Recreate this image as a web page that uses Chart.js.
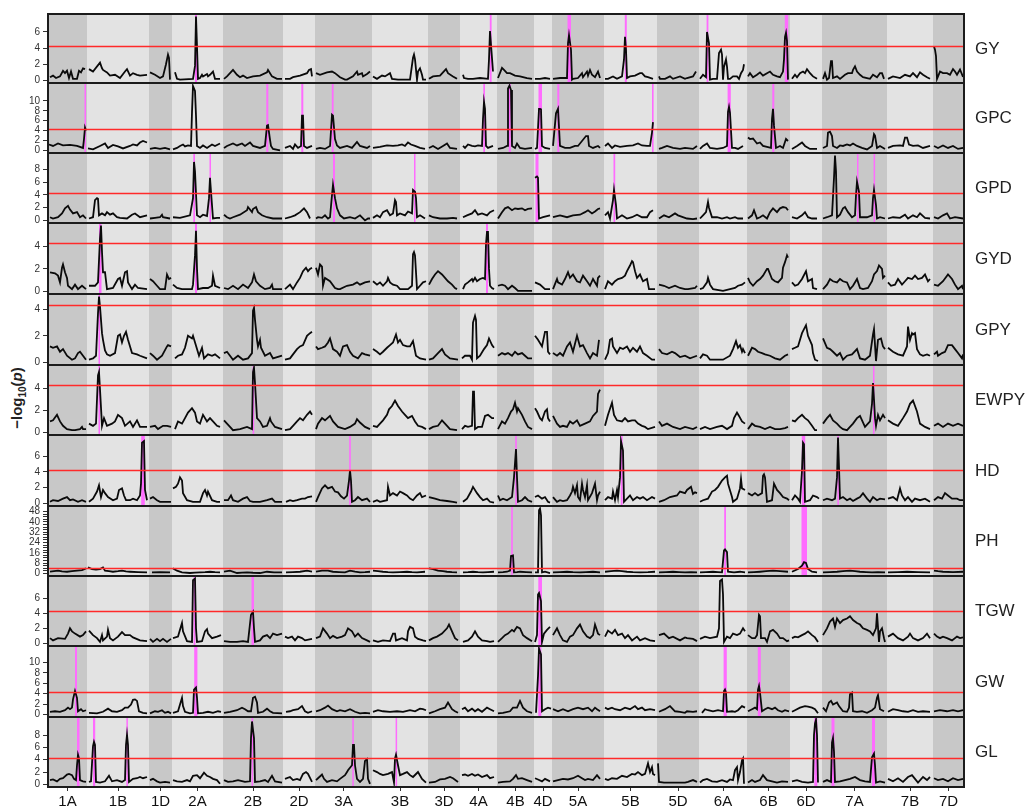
<!DOCTYPE html>
<html><head><meta charset="utf-8">
<script src="https://cdn.jsdelivr.net/npm/chart.js@4.4.1/dist/chart.umd.min.js"></script>
<style>
html,body{margin:0;padding:0;background:#fff;}
body{width:1026px;height:807px;position:relative;overflow:hidden;font-family:"Liberation Sans",Arial,sans-serif;}
canvas{position:absolute;left:0;}
.trait{position:absolute;left:975px;font-size:17px;color:#222;transform:translateY(-50%);}
.ytitle{position:absolute;left:18px;top:398px;transform:translate(-50%,-50%) rotate(-90deg);font-size:15px;font-weight:bold;color:#222;white-space:nowrap;}
.ytitle sub{font-size:10px;}
</style></head>
<body>
<div class="ytitle">−log<sub>10</sub>(<i>p</i>)</div>
<script>
// ---------------- DATA ----------------
const chromosomes = ['1A','1B','1D','2A','2B','2D','3A','3B','3D','4A','4B','4D','5A','5B','5D','6A','6B','6D','7A','7B','7D'];
const chrLen = [39,62,23,51,60,32,57,56,32,37,37,18,52,53,42,48,43,32,65,46,31];
const traits = ['GY','GPC','GPD','GYD','GPY','EWPY','HD','PH','TGW','GW','GL'];
const threshold = 4.3;
const yTicks = {
  GY:[0,2,4,6], GPC:[0,2,4,6,8,10], GPD:[0,2,4,6,8], GYD:[0,2,4], GPY:[0,2,4], EWPY:[0,2,4],
  HD:[0,2,4,6], PH:[0,2,4,6,8,10,12,14,16,18,20,22,24,26,28,30,32,34,36,38,40,42,44,46,48],
  TGW:[0,2,4,6], GW:[0,2,4,6,8,10], GL:[0,2,4,6,8]
};
const phLabelStep = 8;

// genome position / -log10(p) pairs (flat)
const GY_lod = [2,0.4,5,0.6,8,0.3,12,0.5,15,1.2,17,0.9,19,1.2,21,0.3,23,1.1,25,0.2,29,0.2,31,1.2,33,1.0,35,1.5,37,1.4,
41,1.4,45,1.1,52,2.2,54,1.5,55,1.3,59,1.0,62,0.6,67,0.7,72,0.3,77,1.1,79,1.4,82,0.6,85,0.9,89,0.7,92,0.6,99,0.7,
102,1.0,107,0.7,112,0.3,115,0.5,118,2.0,120,3.2,121,2.8,122,0.1,
127,1.0,129,0.2,132,0.1,145,0.2,147,1.8,148,7.9,149,4.2,150,0.2,152,0.3,154,0.7,155,0.5,159,0.8,160,0.5,162,0.7,165,1.1,167,0.2,172,0.2,
176,0.2,179,0.5,185,1.3,189,0.7,192,0.4,195,0.6,199,0.3,205,0.5,212,0.6,219,1.0,220,1.3,224,0.5,229,0.2,234,0.2,
237,0.2,242,0.2,245,0.4,252,0.6,259,0.9,261,1.3,263,1.4,264,0.5,
268,0.9,272,0.7,279,1.0,284,1.1,287,0.9,292,0.4,297,0.1,299,0.1,305,0.5,309,1.1,310,0.7,314,0.9,315,0.5,319,0.8,322,1.1,
325,0.5,329,0.2,334,0.6,337,0.5,342,0.9,344,0.2,350,0.1,362,0.1,365,2.8,366,3.2,367,2.6,369,0.1,370,1.1,372,1.5,374,0.7,375,0.1,378,0.1,
381,0.2,385,0.5,392,0.6,398,1.4,400,0.9,405,0.5,409,0.2,
415,0.7,416,0.3,420,0.2,425,0.2,432,0.3,440,0.2,441,2.6,442,6.1,443,4.4,445,1.1,
450,0.3,454,1.55,456,1.3,459,0.9,462,0.9,467,0.6,472,0.5,479,0.3,484,0.2,
487,0.2,492,0.2,497,0.3,502,0.2,
505,0.2,512,0.3,519,0.3,520,4.6,521,5.6,523,3.8,524,0.1,525,0.2,530,0.3,534,0.9,535,0.4,539,1.1,540,0.6,542,1.3,544,0.7,547,0.4,550,1.1,552,0.3,
557,0.2,560,0.2,565,0.5,569,0.2,574,0.5,576,2.6,577,5.4,578,3.8,579,0.3,582,0.5,587,0.6,592,0.9,594,0.9,597,0.5,600,0.4,605,0.2,
611,0.5,612,0.2,617,0.2,622,0.5,625,0.2,632,0.5,637,0.2,639,0.3,645,0.5,648,1.1,
652,0.2,655,0.7,658,0.4,659,6.0,661,4.6,662,0.1,665,0.2,669,0.2,671,3.4,673,3.8,674,3.2,675,0.1,676,1.7,678,2.6,679,1.7,680,0.2,682,0.2,685,0.5,689,0.5,691,0.2,693,0.9,695,1.3,696,2.0,
700,0.5,702,0.9,705,0.4,709,0.7,712,1.0,715,0.6,719,0.9,722,1.1,725,0.7,729,0.5,732,0.4,735,1.1,736,2.6,737,5.4,738,5.9,739,4.9,740,0.1,
744,0.2,747,0.7,749,0.4,752,0.9,755,1.1,757,0.9,759,1.4,762,0.9,765,0.5,769,0.2,
775,0.2,777,0.9,779,0.1,781,0.3,783,2.4,784,2.4,785,0.3,789,0.5,792,0.2,797,0.7,800,0.9,804,0.9,805,1.3,807,1.75,809,1.1,812,0.7,815,0.4,819,0.3,822,0.2,825,0.7,829,0.4,832,0.9,834,0.9,836,0.2,
840,0.2,845,0.5,852,0.3,857,0.7,862,0.5,865,0.9,869,0.4,872,1.0,875,0.7,879,0.4,882,0.2,
886,4.2,887,3.8,888,3.0,889,0.2,892,1.1,895,0.9,899,0.9,902,0.7,905,1.4,907,1.1,909,0.7,912,1.35,915,0.45];

const GPC_lod = [1,1.2,5,0.9,10,1.4,15,1.0,22,1.1,29,0.9,35,0.5,36,2.3,37,4.6,38,4.0,
40,0.4,45,0.2,52,0.9,57,1.4,60,0.5,65,1.1,70,0.8,75,0.4,82,0.9,85,1.2,89,1.0,92,1.6,95,1.9,99,1.6,
102,0.3,107,0.5,112,0.3,117,0.5,122,0.2,
125,0.2,129,0.5,132,0.9,135,1.2,137,0.8,140,1.0,143,0.9,144,7.7,145,13.0,147,12.0,148,7.0,149,0.9,152,0.5,155,1.0,159,0.5,164,1.2,167,0.9,172,1.4,
176,0.5,179,0.9,185,1.4,189,1.0,194,1.4,197,0.9,202,1.6,205,0.9,212,0.5,217,0.9,219,5.0,220,5.1,222,2.2,223,0.9,225,0.3,232,0.0,
237,0.5,242,0.9,245,0.3,247,1.2,250,0.5,253,0.9,254,7.0,255,7.0,256,0.9,259,0.5,264,0.9,
268,0.3,272,0.5,277,0.3,282,0.9,283,4.0,284,7.2,285,7.0,287,2.3,289,1.0,292,0.5,299,0.9,304,0.5,309,1.7,312,0.9,319,0.5,322,0.9,
325,0.5,332,0.7,339,1.0,345,0.9,350,1.0,354,1.2,357,0.9,360,1.6,363,1.2,367,0.9,372,0.5,377,0.3,
381,0.5,385,0.9,390,0.3,395,0.9,399,1.4,402,0.5,409,0.3,
415,0.9,417,0.5,420,1.2,424,0.9,427,0.8,430,1.0,434,0.9,435,6.4,436,9.8,437,8.4,438,0.9,440,0.5,445,0.9,
450,0.3,455,0.5,459,0.9,460,12.5,461.5,13.1,463,12.2,464,0.9,467,0.5,469,1.4,472,0.5,477,0.3,484,0.5,
487,0.3,489,0.5,491,8.4,492,8.4,493,8.3,494,0.9,497,0.5,502,0.3,
505,0.9,508,7.5,510,8.4,512,0.9,517,0.5,522,0.5,527,0.9,530,0.9,538,2.9,540,2.9,541,0.9,545,0.5,550,0.9,552,0.5,
557,0.9,560,1.4,564,0.5,567,1.0,572,0.7,579,0.9,585,1.0,590,1.4,594,1.0,599,0.9,602,0.9,604,3.6,605,5.7,
611,0.3,614,0.5,619,0.9,625,0.5,632,0.3,637,0.5,645,0.3,649,0.9,
652,0.3,655,0.9,659,1.4,662,0.5,669,0.3,675,0.5,679,0.9,680,7.8,681,8.8,682,7.6,684,0.5,687,0.5,690,0.3,695,0.9,
700,2.6,702,2.3,705,2.4,707,1.9,709,1.4,712,1.6,715,0.9,719,0.7,723,0.5,724,6.4,725,8.4,726,5.0,728,0.5,732,0.9,735,0.5,738,2.3,740,1.9,
744,0.3,749,0.9,754,1.6,757,0.9,762,0.3,769,0.3,
775,0.5,779,0.9,780,3.6,782,3.8,784,2.9,785,0.9,789,0.5,792,1.0,795,0.9,799,1.2,802,1.0,805,1.4,809,0.9,814,0.5,819,0.2,824,0.9,826,3.3,827,3.0,829,0.5,832,0.9,837,0.3,
840,0.5,845,0.9,852,1.0,855,0.9,857,2.6,859,2.6,861,1.2,865,0.9,870,1.0,875,0.5,882,0.9,
886,0.9,890,0.5,895,1.0,900,0.5,905,0.9,910,0.3,915,0.5];

const GPD_lod = [2,0.5,5,0.3,10,0.5,14,1.1,17,1.9,20,2.3,22,1.7,25,1.1,29,1.3,32,0.5,35,0.8,38,0.3,
41,0.3,45,0.5,47,3.2,49,3.5,50,3.4,51,0.8,54,1.1,57,0.8,59,1.3,62,0.9,65,1.1,69,0.5,72,0.4,79,0.3,84,0.9,87,1.1,92,0.5,99,0.8,
102,0.3,107,0.4,112,0.5,114,0.9,115,0.5,122,0.3,
125,0.5,132,0.4,142,0.8,145,3.5,146,9.2,147,7.7,149,0.8,152,0.5,155,0.9,159,0.7,161,3.5,162,6.7,163,4.5,165,0.3,169,0.4,172,0.4,
176,0.9,179,0.5,182,0.3,185,0.5,192,0.9,199,1.6,200,2.1,204,1.3,205,1.8,208,2.1,210,1.3,214,0.8,219,0.5,225,0.3,234,0.3,
237,0.3,242,0.5,247,0.8,252,1.3,256,1.9,259,1.3,262,0.3,
268,0.3,270,0.5,274,0.4,277,0.8,280,0.3,282,0.5,284,4.0,285,5.6,287,3.5,289,1.9,292,0.8,296,0.3,302,0.5,307,0.3,312,0.8,317,0.0,320,0.3,322,0.3,
325,0.4,329,0.8,332,0.5,335,1.3,339,1.6,342,0.8,345,1.1,347,3.2,348,2.9,349,0.8,352,1.1,357,0.8,360,1.4,364,1.1,365,4.8,367,4.5,368,3.5,369,0.5,372,0.8,377,0.3,
381,0.8,385,0.5,392,0.3,399,0.3,405,0.4,409,0.3,
415,0.5,419,0.8,424,1.1,427,1.6,430,0.9,434,1.1,439,0.8,442,1.3,446,1.6,
450,0.3,454,1.3,457,1.9,460,2.1,464,1.6,467,1.9,470,1.8,474,1.9,477,1.6,480,1.8,484,1.9,
487,6.7,489,6.9,490,6.7,491,0.3,495,0.5,502,0.8,
505,0.5,512,0.8,519,0.5,525,0.8,532,0.9,537,1.3,540,1.6,544,1.1,547,1.4,550,1.8,552,1.9,
557,0.8,560,1.3,562,0.3,565,3.2,566,4.8,568,2.4,569,0.3,574,0.8,579,0.3,584,0.5,589,0.9,594,0.5,599,0.5,602,1.3,605,1.6,
611,0.3,616,0.8,621,0.5,627,1.1,630,0.8,639,0.3,645,0.2,649,0.3,
652,0.3,655,0.8,658,1.3,660,2.9,661,2.0,664,0.5,669,0.5,674,0.3,679,0.5,682,0.3,687,0.5,690,0.3,695,0.3,
700,0.3,704,0.8,706,1.6,709,0.3,712,0.5,715,0.8,719,0.3,722,1.3,725,1.9,729,1.3,732,1.9,735,2.1,738,2.0,740,1.6,
744,0.5,749,0.3,754,0.8,757,1.3,760,0.5,764,0.3,769,0.3,
775,0.3,779,0.5,784,0.8,786,6.7,787,10.2,788,7.7,789,0.5,792,0.9,795,1.9,797,2.1,800,1.3,804,0.5,807,0.8,808,4.0,809,6.1,811,4.5,812,0.5,819,0.5,824,0.8,825,3.5,826,4.8,828,2.4,829,0.3,832,0.5,837,0.3,
840,0.3,845,0.5,852,0.4,857,0.9,860,0.3,865,0.8,869,0.5,872,1.1,877,0.4,882,0.3,
886,0.5,890,0.3,895,0.8,899,1.1,902,0.3,907,0.5,915,0.3];

const GYD_lod = [2,1.7,7,1.6,10,1.4,12,0.8,14,2.1,15,2.4,17,1.7,19,1.2,20,0.5,24,0.2,27,0.6,30,0.2,34,0.5,38,0.2,
41,0.5,47,0.5,50,0.8,52,4.7,53,5.85,54,3.5,55,1.7,57,1.7,59,0.2,65,0.3,70,1.1,72,1.2,74,0.5,77,1.7,79,1.8,80,0.8,84,0.2,87,0.6,90,0.3,99,0.2,
102,1.1,105,0.9,109,0.5,112,0.2,117,0.2,119,1.5,121,1.1,123,1.2,
125,0.6,129,0.3,134,0.2,144,0.2,145,0.6,147,3.2,148,5.4,149,2.0,150,0.2,155,0.3,160,0.3,164,0.5,165,1.4,167,0.5,172,0.3,
176,0.3,180,0.2,185,0.5,190,0.2,195,0.6,200,0.3,204,0.8,206,1.5,208,0.9,212,0.5,217,0.2,222,0.3,224,0.6,225,0.2,234,0.2,
237,0.2,242,0.6,245,0.2,249,0.8,252,1.2,255,1.8,258,2.1,260,1.8,262,2.0,264,2.1,
268,2.1,270,1.5,272,2.4,274,2.2,275,0.5,277,1.2,282,0.9,287,0.3,290,0.2,292,0.2,299,0.5,305,0.6,309,0.8,312,0.6,317,0.8,322,0.9,
325,0.9,329,0.6,332,0.8,335,0.5,339,0.9,340,1.2,342,0.8,345,0.6,349,0.5,352,0.2,360,0.2,364,0.5,365,3.3,366,3.5,367,3.2,369,0.2,372,0.5,375,0.8,378,0.9,
381,0.6,384,1.1,387,1.5,390,1.8,394,1.5,397,1.2,400,0.9,404,0.6,407,0.3,409,0.2,
415,0.2,417,0.6,420,0.8,424,1.1,425,0.9,427,1.2,429,0.9,432,1.1,435,1.2,437,1.1,438,4.2,439,5.3,440,5.3,441,2.0,442,0.5,444,0.3,446,0.2,
450,0.5,454,0.6,457,0.5,460,0.2,464,0.5,467,0.3,470,0.05,484,0.05,
487,0.8,492,0.6,497,0.2,502,0.2,
505,0.2,509,1.1,510,0.8,514,0.6,517,1.1,520,1.7,522,1.2,525,1.5,529,0.9,532,0.8,535,1.4,539,0.9,542,0.5,545,1.1,549,0.5,550,1.2,552,1.4,
557,0.2,560,0.9,564,0.6,567,0.9,570,1.1,574,1.2,577,1.4,579,1.8,582,2.3,584,2.7,585,2.6,587,1.8,589,1.2,592,1.5,595,0.9,599,1.1,601,0.2,607,0.2,
611,0.6,616,0.5,621,0.3,627,0.5,632,0.3,637,0.2,640,0.2,647,0.3,649,0.5,
652,0.2,655,0.3,659,0.8,660,1.2,662,0.6,665,0.2,675,0.05,682,0.2,687,0.3,690,0.5,694,0.6,697,0.8,
700,1.2,702,0.8,705,0.5,709,0.9,712,1.1,715,1.4,719,2.0,720,2.0,724,1.1,727,0.9,730,0.8,734,1.2,735,2.1,737,2.6,739,3.2,740,3.0,
744,0.8,747,0.5,750,0.6,754,1.1,758,1.8,760,0.9,764,1.1,765,0.3,769,0.2,
775,0.2,779,0.6,782,1.1,785,0.9,789,0.8,792,1.1,795,0.9,799,0.8,802,0.2,805,0.5,809,1.1,812,0.3,815,0.2,820,0.3,824,0.9,826,1.5,829,1.8,831,2.3,834,2.0,835,1.2,837,1.4,
840,0.8,843,0.5,847,0.6,850,1.1,854,0.6,857,0.9,860,1.2,864,1.1,867,1.4,870,1.1,874,1.2,877,1.5,880,0.9,882,1.1,
886,0.6,890,0.5,895,0.9,900,1.5,904,1.1,907,0.6,910,0.2,914,0.5,915,0.2];

const GPY_lod = [2,1.2,5,1.1,9,1.2,12,0.8,15,1.0,19,0.5,24,0.2,27,0.3,30,0.7,32,0.8,35,0.5,38,0.2,
41,0.2,45,0.3,48,0.5,50,3.7,51,4.95,52,4.2,54,2.2,55,1.7,57,0.9,59,0.6,62,0.5,67,0.7,70,2.0,72,2.1,74,1.5,76,2.0,78,2.3,80,1.7,84,0.7,89,0.6,92,0.5,99,0.3,
102,0.7,105,0.5,109,0.2,114,0.5,119,1.2,120,1.3,123,1.2,
127,0.3,130,0.5,134,0.6,137,1.1,140,2.0,144,1.8,145,2.0,149,1.0,151,0.5,154,1.1,156,0.3,160,0.6,164,0.5,167,0.6,172,0.3,
176,0.7,179,0.8,182,0.5,185,0.2,190,0.5,195,0.2,200,0.3,204,0.7,205,3.9,206,4.1,207,3.2,209,1.7,210,1.2,212,1.7,213,1.1,217,0.5,222,0.7,225,0.3,234,0.5,
237,0.2,242,0.3,245,0.6,249,1.0,252,1.2,255,1.3,259,2.0,262,2.2,264,2.3,
268,1.2,270,1.0,274,1.1,277,1.2,280,1.5,282,1.8,285,1.0,289,0.8,292,0.5,295,1.2,299,1.3,302,0.8,305,0.5,310,0.3,314,0.7,317,0.6,322,0.5,
325,1.0,329,0.8,332,0.6,335,0.8,339,1.1,342,1.3,345,1.5,348,2.1,350,1.5,352,1.7,355,1.3,359,1.2,362,1.2,365,1.6,368,0.5,372,0.3,378,0.2,
381,0.2,385,0.3,390,0.7,394,1.0,397,0.6,402,0.3,410,0.2,
414,0.3,417,0.5,422,0.5,424,0.2,425,3.0,427,3.5,428,3.2,429,0.3,432,0.5,436,1.0,439,1.3,441,1.8,444,1.3,446,1.1,
450,0.5,454,0.7,457,0.6,460,0.7,464,0.5,467,0.8,470,0.6,474,0.7,477,0.5,480,0.3,484,0.3,
487,2.0,490,1.7,494,1.2,497,2.3,499,2.3,500,0.8,502,0.6,
505,0.7,509,0.5,512,0.7,515,0.5,519,1.2,522,1.5,525,0.8,529,2.0,532,1.2,535,1.3,539,0.7,542,0.3,545,0.7,549,0.5,551,1.7,
557,0.2,560,0.7,562,1.7,564,1.8,565,1.2,569,0.7,572,1.1,575,1.0,579,1.2,582,0.8,585,1.1,589,0.8,592,1.2,595,0.7,599,0.5,604,0.2,607,0.2,
611,1.0,614,0.7,619,0.6,624,0.8,627,0.7,632,0.4,637,0.5,642,0.3,649,0.5,
652,0.3,655,0.6,659,0.5,662,0.2,669,0.2,675,0.2,682,0.5,685,1.0,688,1.6,690,1.1,692,1.3,694,0.8,695,1.0,697,0.7,
700,0.5,704,1.1,707,1.0,710,0.8,714,0.7,717,0.6,722,0.5,727,0.3,732,0.2,737,0.5,740,0.6,
744,1.0,747,1.1,750,1.2,754,2.2,758,2.8,760,2.0,764,1.3,765,0.7,767,0.2,770,0.1,
775,1.8,779,1.1,782,1.0,785,0.8,789,0.5,792,0.7,795,0.2,799,0.5,804,0.6,809,1.0,812,0.3,817,0.2,822,0.5,825,2.1,826,2.5,828,0.1,830,1.7,833,1.8,835,1.2,837,1.0,
840,1.1,845,0.8,850,0.6,855,0.5,859,1.2,860,2.7,862,1.7,864,2.2,865,2.1,867,2.2,869,1.0,872,0.6,875,0.5,879,0.6,882,0.5,
886,0.6,889,0.8,890,0.5,894,0.7,897,0.8,900,1.3,904,1.3,907,1.0,910,0.7,914,0.3,915,0.6];

const EWPY_lod = [2,1.0,5,1.1,9,1.6,12,1.0,15,0.6,19,0.3,24,0.2,27,0.2,32,0.3,34,0.5,35,0.3,38,0.3,
41,0.8,45,0.6,48,0.8,50,5.2,51,5.5,52,3.9,54,0.6,56,1.3,59,0.6,64,0.8,67,1.0,70,1.6,74,1.3,77,0.6,82,1.0,85,0.5,89,1.1,92,0.5,99,0.5,
102,0.5,107,0.6,110,0.3,115,0.6,119,0.6,123,0.5,
127,0.3,130,1.0,134,0.8,137,1.3,140,1.8,144,2.2,147,1.8,149,1.0,152,0.8,155,1.6,159,1.0,162,1.3,165,1.0,169,0.6,172,0.5,
176,1.1,179,0.8,182,0.5,185,0.2,192,0.3,199,0.5,204,0.3,205,5.5,206,5.9,207,4.5,209,1.3,212,1.0,215,0.5,219,0.6,222,1.3,223,1.0,227,0.5,234,0.3,
237,0.2,242,0.3,245,0.6,249,1.0,252,1.3,255,1.1,259,1.6,262,1.9,264,1.6,
268,0.3,270,0.8,274,1.3,277,1.1,282,1.5,285,1.0,290,0.5,297,0.3,302,0.5,307,0.8,309,1.2,312,0.9,317,0.5,322,0.3,
325,0.6,329,0.5,332,0.8,335,1.1,339,1.6,341,2.1,344,2.4,347,2.9,350,2.4,354,1.9,357,1.6,360,1.3,364,1.5,367,1.0,370,0.6,374,0.5,378,0.3,
381,0.3,385,0.5,390,0.6,394,1.1,397,0.8,402,0.3,409,0.2,
414,0.3,417,0.6,420,0.5,424,0.6,425,3.7,426,3.7,427,0.3,430,0.5,434,0.5,437,1.5,440,1.6,444,1.3,446,1.3,
450,0.3,454,1.0,457,0.8,460,1.3,463,1.9,465,2.1,467,2.7,469,1.9,470,2.2,474,1.6,477,1.0,480,0.5,484,0.3,
487,2.2,489,1.9,492,1.3,494,1.1,497,1.9,499,2.1,500,1.3,502,1.0,
505,1.5,509,0.8,512,0.5,515,0.6,519,0.5,522,1.0,525,0.8,529,1.1,532,0.6,537,0.8,542,1.0,545,1.5,549,1.9,550,3.5,552,3.9,
557,0.6,560,1.6,564,2.7,566,1.6,569,1.1,574,1.0,577,1.3,580,1.0,584,1.1,587,1.1,590,0.8,594,0.6,597,0.5,600,0.3,607,0.5,
611,1.0,614,0.6,619,0.8,625,0.5,632,0.3,637,0.5,645,0.3,649,0.5,
652,0.3,657,0.5,662,0.3,669,0.5,674,0.6,679,0.3,684,0.6,686,1.3,689,1.8,691,1.5,694,1.0,697,0.8,
700,0.3,704,0.8,707,0.6,712,0.5,717,0.3,722,0.5,727,0.3,732,0.3,737,0.4,740,0.5,
744,1.1,747,1.0,750,1.3,754,1.6,757,1.3,760,1.1,764,0.6,767,0.2,769,0.2,
775,0.8,779,1.3,782,1.6,785,1.1,789,0.8,792,0.5,795,0.3,799,0.2,802,0.5,805,0.8,809,1.3,812,1.5,817,0.5,822,1.0,824,2.6,825,4.5,826,3.0,827,1.3,828,0.6,830,1.6,832,1.1,835,1.6,837,1.3,
840,1.1,845,0.8,850,0.6,855,1.3,859,1.9,862,2.6,865,2.9,869,1.9,872,0.8,877,0.5,882,0.3,
886,0.6,890,0.8,895,0.5,900,0.8,905,0.6,910,0.8,915,0.6];

const HD_lod = [2,0.2,5,0.4,10,0.3,15,0.6,19,0.8,22,0.4,25,0.5,30,0.2,34,0.4,38,0.2,
41,0.2,45,0.6,49,1.5,51,2.3,53,0.8,55,1.7,57,1.3,60,0.8,65,0.4,69,0.6,71,1.7,74,1.9,76,1.0,78,0.4,82,0.4,85,0.6,89,0.4,92,1.0,93,2.5,94,7.7,96,7.9,97,1.7,99,0.4,
102,0.6,105,0.8,109,0.4,112,0.2,119,0.2,123,0.2,
125,1.9,128,2.1,130,2.5,132,3.3,134,2.9,135,1.3,139,0.4,145,0.2,152,0.2,155,1.3,157,1.7,159,1.0,160,1.5,164,0.4,169,0.2,172,0.2,
176,0.4,180,0.4,183,1.0,185,0.4,190,0.2,195,0.6,199,0.8,202,0.3,205,0.2,212,0.2,219,0.4,224,0.6,227,0.2,234,0.2,
238,0.2,242,0.4,245,0.3,249,0.4,254,0.6,257,0.6,260,0.8,264,0.9,
268,0.2,270,0.8,274,1.9,277,2.3,280,1.9,284,2.1,287,1.5,290,1.4,293,0.9,296,0.6,299,1.0,301,2.9,302,4.2,303,2.9,304,0.2,307,0.4,310,0.8,314,0.4,319,0.6,322,0.2,
325,0.2,329,0.4,332,0.2,339,0.4,340,2.1,342,1.0,345,1.3,349,1.0,352,1.5,355,1.3,359,1.0,362,0.6,365,0.4,369,1.0,372,1.3,374,0.8,378,1.0,
381,0.8,387,0.6,392,0.4,399,0.3,405,0.2,409,0.1,
415,0.2,419,0.6,423,1.5,425,2.1,429,1.3,432,0.8,435,0.4,439,0.6,442,0.2,446,0.1,
450,1.0,452,0.4,455,0.6,459,0.4,464,0.8,466,3.3,468,6.9,469,3.3,470,0.2,474,0.4,477,0.8,480,0.4,484,0.2,
487,0.8,490,1.0,494,0.6,497,0.8,500,0.2,502,0.1,
505,0.8,509,0.2,512,0.4,515,0.3,519,0.4,522,1.0,524,1.5,525,2.1,527,1.3,529,2.3,530,0.8,532,0.4,534,2.5,535,1.7,537,0.8,539,2.3,540,0.4,544,1.3,547,2.5,549,0.4,550,1.0,552,1.5,
557,0.4,560,0.8,564,0.6,565,1.5,567,0.4,569,1.7,570,0.8,572,3.3,573,7.9,575,6.7,576,0.2,579,0.6,582,1.0,585,0.4,589,0.8,592,0.6,595,0.8,599,0.4,604,0.8,607,0.6,
611,0.2,616,0.4,622,0.8,629,1.0,632,1.5,637,1.3,639,1.7,643,2.1,645,1.2,647,1.4,649,1.3,
652,0.2,655,0.4,660,0.6,664,1.5,667,1.7,670,2.1,674,2.9,677,3.3,679,3.5,680,2.5,684,0.8,685,0.2,689,0.6,692,1.9,693,3.1,694,1.9,697,1.7,
700,1.3,704,1.0,707,1.3,710,1.0,714,1.3,715,3.5,716,3.7,717,3.3,719,0.2,724,0.4,726,2.5,729,1.7,732,1.3,735,0.8,739,0.6,741,0.4,
744,0.4,747,1.0,750,0.6,752,0.2,754,4.2,755,7.7,756,7.5,757,0.2,762,0.4,765,1.0,769,0.8,771,0.6,
775,0.4,779,0.6,784,0.4,787,0.6,789,3.3,790,8.35,791,4.6,792,0.6,795,0.8,799,0.4,802,0.6,805,0.3,809,0.6,812,0.8,815,1.3,819,0.6,822,0.2,825,0.8,829,0.4,832,0.6,837,0.5,
840,0.6,845,0.8,849,0.4,852,1.9,854,1.0,857,0.4,860,0.8,864,0.2,867,0.6,872,0.4,877,0.6,882,0.2,
886,0.4,890,0.8,894,0.6,897,1.3,900,1.0,904,0.6,909,0.6,912,0.4,915,0.4];

const PH_lod = [2,1.3,6,1.7,10,2.1,14,1.5,19,1.3,24,1.7,29,2.1,34,2.5,38,3.9,
40,4.7,44,3.4,48,3.0,52,3.4,55,4.7,57,2.1,61,1.7,65,1.3,70,1.7,74,2.1,78,1.5,82,1.3,90,1.0,99,0.8,
104,0.8,112,1.0,122,0.8,
125,3.9,129,2.1,134,0.8,142,0.3,147,0.6,152,0.8,157,1.0,162,1.3,167,1.0,172,0.8,
176,1.3,182,2.1,189,0.3,194,0.6,199,0.8,205,0.5,212,0.3,219,1.3,226,0.8,234,0.8,
238,0.8,245,1.0,252,1.3,259,2.1,264,1.3,
268,1.3,274,2.1,280,2.1,285,1.3,291,1.0,297,0.8,302,2.1,307,1.3,312,0.8,317,1.0,322,1.3,
325,2.1,330,1.7,335,1.3,340,1.0,345,0.8,352,1.0,359,1.3,364,1.0,369,0.8,377,1.3,
381,3.9,385,3.4,390,2.1,395,1.7,399,1.3,404,1.0,409,0.8,
415,0.8,420,1.0,425,1.3,430,1.0,435,0.8,440,1.0,446,1.3,
450,0.8,455,1.0,459,1.3,462,2.1,463,13.5,465,13.9,466,0.8,469,1.0,472,1.3,478,1.0,484,0.8,
487,0.8,490,0.8,491,49.0,492,50.3,493,45.0,494,0.8,497,1.3,502,0.3,
505,0.8,512,1.0,519,1.3,525,1.0,532,0.8,538,1.0,545,1.3,552,0.8,
557,1.3,563,1.7,569,2.1,574,1.7,579,1.3,585,1.0,592,0.8,600,1.0,607,1.3,
611,0.8,618,1.0,625,1.3,631,1.0,637,0.8,643,1.0,649,0.8,
652,0.8,658,1.0,665,1.3,670,1.0,674,0.8,676,17.8,677,18.6,679,16.5,680,1.3,686,0.8,692,1.3,697,0.8,
700,0.8,706,1.0,712,1.3,718,1.7,725,2.1,732,1.7,740,1.3,
744,1.3,750,3.4,754,6.0,756,8.7,758,8.1,760,3.4,764,1.3,769,0.8,
775,0.8,782,1.0,789,1.3,795,1.7,802,2.1,807,1.7,812,1.3,818,1.0,824,0.8,830,1.0,837,0.8,
840,0.8,850,1.0,859,1.3,870,1.0,882,0.8,
886,2.1,890,1.7,895,1.3,905,1.0,915,1.3];

const TGW_lod = [2,0.7,5,0.4,10,0.7,17,0.6,20,1.3,22,2.0,24,1.6,27,1.3,32,0.9,35,1.1,38,1.6,
41,1.7,45,1.1,49,0.7,52,0.2,54,1.1,55,0.4,59,0.9,60,1.8,62,0.7,65,0.4,70,0.9,74,1.5,77,1.1,82,1.1,85,0.8,92,0.4,99,0.3,
102,0.6,105,0.2,109,0.6,112,0.3,115,0.6,119,0.2,123,0.6,
125,0.7,130,0.9,134,2.7,135,1.6,139,0.3,144,0.2,145,8.4,147,8.6,148,2.0,149,0.2,154,0.3,157,1.6,159,1.9,160,1.3,164,0.7,169,0.9,173,1.1,
176,0.3,182,0.2,189,0.2,195,0.3,200,0.2,203,3.8,205,4.2,206,2.0,207,0.2,212,0.4,215,0.9,219,1.1,222,0.7,225,1.3,229,1.1,234,1.3,
237,0.9,240,0.7,244,0.9,247,0.4,250,0.9,254,0.7,257,0.4,264,0.6,
268,0.7,272,0.9,275,2.0,279,1.3,282,0.7,285,1.0,289,0.7,294,0.9,297,1.1,300,2.0,304,1.6,307,0.9,310,1.3,314,0.7,319,0.4,322,0.2,
325,0.4,330,0.2,335,0.4,342,0.3,345,1.3,347,1.3,348,0.4,354,0.7,359,0.4,360,1.6,362,2.2,365,2.0,367,0.9,370,0.6,375,0.4,378,0.3,
381,0.4,385,0.7,389,0.9,394,1.3,399,2.0,401,2.5,404,1.6,407,0.7,410,0.4,
415,0.2,420,0.4,424,0.9,427,1.6,430,0.9,434,0.4,439,0.3,442,0.2,446,0.3,
450,0.2,454,0.7,457,1.1,460,1.3,464,1.8,466,1.6,469,2.2,472,2.0,475,1.1,479,0.7,484,0.3,
487,0.2,489,1.1,490,6.5,491,6.7,493,5.6,494,0.2,496,1.3,499,1.8,502,2.2,
505,1.1,509,2.0,512,1.1,515,0.4,519,0.2,522,0.9,525,1.1,529,2.0,532,2.5,535,1.6,539,0.9,542,0.7,545,1.1,547,2.5,550,1.3,552,1.1,
557,0.9,560,1.7,564,1.3,567,1.8,570,1.1,574,1.3,577,0.7,580,1.1,584,0.4,589,0.9,592,0.4,597,0.7,602,0.4,607,0.3,
611,1.1,616,1.3,621,0.7,625,0.9,632,0.4,637,0.8,639,0.7,645,0.6,649,0.3,
652,0.6,657,0.9,662,0.7,669,0.9,671,2.0,672,8.3,674,8.5,675,6.5,676,0.2,679,0.9,682,0.7,685,1.3,689,1.1,692,1.3,695,2.0,697,1.6,
700,1.1,704,0.7,707,0.7,709,1.1,711,3.8,712,3.6,713,0.7,717,0.7,719,0.2,722,1.6,725,1.8,729,1.3,732,0.7,735,0.7,739,0.3,741,0.4,
744,0.7,747,0.9,750,0.8,754,1.1,757,1.3,760,1.6,764,1.1,767,0.8,770,0.2,
775,1.1,779,2.0,782,2.9,785,3.3,787,2.2,789,3.3,792,2.7,795,3.1,799,3.3,802,3.6,805,3.1,809,2.7,812,2.5,815,2.0,819,1.8,822,1.6,825,1.1,828,2.0,829,4.0,831,0.2,832,1.6,834,2.0,836,0.7,837,0.2,
840,0.9,845,1.3,850,0.7,855,0.4,860,0.9,862,1.3,865,0.7,870,0.4,875,0.7,879,1.3,882,0.7,
886,1.3,889,0.9,892,0.7,895,0.9,899,0.7,904,0.4,909,0.9,912,0.7,915,0.8];

const GW_lod = [2,0.5,7,0.6,12,0.5,17,0.8,20,1.3,22,1.0,24,1.3,25,2.9,27,4.5,29,3.2,30,0.6,33,1.0,35,0.6,38,0.8,
41,0.3,49,0.2,55,0.5,60,1.1,64,0.6,69,0.5,74,0.8,77,1.3,80,1.3,83,1.9,85,2.8,87,2.9,89,2.6,91,0.6,95,0.3,99,0.2,
102,0.2,107,0.6,110,0.5,114,0.8,117,0.3,120,0.5,123,0.2,
125,0.3,130,0.6,132,1.9,134,3.2,135,1.6,137,0.5,142,0.2,145,0.3,146,4.8,148,5.2,149,3.2,150,0.2,155,0.3,160,0.5,165,0.3,170,0.6,173,0.5,
176,0.3,182,0.5,189,0.8,194,1.3,197,1.0,200,0.6,203,0.6,205,3.2,207,3.4,209,2.3,210,0.3,215,0.5,219,1.1,222,0.6,225,0.3,234,0.2,
238,0.5,242,0.6,245,0.8,250,1.0,254,1.6,257,0.6,260,0.3,264,0.6,
268,0.6,272,0.8,277,1.3,280,1.7,284,1.0,289,0.6,292,0.8,297,0.6,302,1.0,307,0.5,312,0.2,317,0.3,322,0.2,
325,0.5,330,0.8,335,0.6,342,0.5,349,0.6,355,0.5,362,0.8,367,0.6,372,1.1,375,1.0,378,0.8,
381,0.2,387,0.6,392,1.0,397,1.3,400,2.3,404,1.0,407,0.6,410,0.3,
414,1.0,417,1.3,420,0.6,424,1.1,427,0.6,430,1.0,434,0.5,439,1.3,442,1.0,446,0.6,
450,0.2,455,0.3,462,0.6,465,1.3,469,1.3,472,2.6,475,1.3,479,0.6,484,0.3,
488,0.3,490,7.4,491,12.7,493,11.6,494,0.6,497,1.0,500,1.3,503,1.1,
505,1.0,510,0.6,515,1.0,520,0.6,525,1.0,530,1.3,535,1.0,540,1.3,544,0.6,547,1.3,549,1.0,552,0.6,
557,1.3,560,1.0,564,1.3,567,1.0,572,0.8,577,1.3,582,1.0,587,1.6,590,1.0,594,1.3,597,0.8,602,1.0,607,0.8,
611,0.5,617,1.0,622,1.6,627,0.6,632,0.5,637,0.3,639,0.6,645,0.5,649,0.6,
654,0.3,657,1.0,660,0.8,665,0.6,670,0.8,675,0.6,676,4.5,677,4.8,678,4.2,679,0.5,684,0.6,687,0.5,690,0.8,694,1.6,697,1.3,
700,0.6,704,1.0,707,1.3,709,1.0,710,4.8,711,5.5,712,4.2,714,0.6,717,1.0,720,1.3,724,1.0,727,1.3,730,0.8,734,0.5,737,0.8,741,0.6,
744,0.5,747,0.8,752,1.3,757,1.6,760,1.5,764,1.3,767,1.0,770,0.2,
775,1.3,778,0.6,781,2.3,783,2.6,785,1.9,789,2.3,791,1.6,795,0.6,799,0.5,801,1.3,802,3.9,804,4.2,805,0.6,809,0.5,814,0.6,819,0.3,824,0.8,827,1.3,829,3.2,830,3.7,832,1.0,836,0.6,
840,0.5,845,1.0,850,0.8,855,0.6,860,0.5,865,0.8,870,0.5,875,0.6,882,0.5,
886,0.6,892,0.8,899,0.6,905,0.8,910,0.6,915,0.8];

const GL_lod = [2,0.7,5,0.8,9,0.5,12,0.9,15,1.0,19,1.6,21,1.7,24,1.5,26,0.9,28,0.7,29,3.1,30,4.8,31,4.2,32,0.7,35,0.5,38,0.4,
41,0.4,43,0.5,45,6.2,46,6.9,47,6.4,48,0.4,52,0.3,57,0.5,61,1.4,64,0.5,69,0.7,74,0.4,77,0.7,78,6.4,79,8.0,80,6.4,81,0.4,85,0.9,89,1.0,92,1.2,95,1.0,99,1.2,
102,0.7,105,0.9,109,0.5,112,0.3,117,0.4,122,0.3,
125,0.7,129,0.5,134,0.4,139,0.7,142,0.5,145,1.4,149,1.5,152,1.0,156,1.9,159,1.4,162,1.2,165,0.9,169,0.7,172,0.1,
176,0.7,180,0.4,185,0.5,190,0.7,197,0.4,202,0.5,203,7.5,204,10.2,206,7.5,207,0.4,212,0.5,217,0.7,220,0.4,224,1.4,227,0.5,234,0.3,
237,0.9,242,1.2,245,0.7,249,0.9,252,0.7,255,1.7,258,2.0,260,1.7,264,0.4,
268,0.7,270,1.0,274,1.6,276,0.9,279,0.4,284,0.7,289,0.5,292,0.9,297,1.5,299,2.0,300,2.3,304,3.1,305,6.4,306,6.4,307,3.1,309,0.9,312,0.4,315,0.9,317,3.8,319,4.1,320,0.9,322,0.1,
325,2.3,329,2.0,332,1.7,335,1.5,340,1.7,344,2.0,346,0.3,347,4.2,348,4.8,350,3.1,352,1.5,355,1.7,359,2.0,362,1.5,365,1.2,370,2.0,374,0.9,378,0.3,
381,0.3,387,0.4,392,0.8,397,0.9,402,1.2,405,1.0,410,0.4,
414,1.5,417,1.6,420,1.4,424,1.7,427,1.4,430,1.6,434,1.2,439,1.5,442,1.0,446,1.2,
450,0.3,455,0.4,462,0.5,465,0.9,468,1.5,470,0.9,474,1.0,479,0.7,484,0.4,
487,1.0,490,0.8,494,0.5,497,0.9,502,0.5,
505,0.5,510,0.7,515,0.9,520,0.8,525,1.0,530,1.4,534,1.0,537,0.7,540,0.9,545,0.7,549,1.5,552,0.9,
557,0.9,560,0.7,564,1.0,569,0.9,574,1.4,579,1.2,584,1.7,587,1.6,590,2.0,594,1.5,597,1.7,600,3.4,602,2.0,604,2.8,605,1.7,607,1.5,
610,3.4,611,0.4,616,0.3,625,0.3,637,0.3,640,0.4,645,0.7,649,0.4,
652,0.3,655,0.7,659,0.9,664,0.5,669,0.4,674,0.7,679,0.4,682,0.8,685,0.7,687,2.3,689,2.8,690,0.7,692,2.0,694,3.9,695,4.2,696,0.1,
700,0.3,704,0.7,707,0.4,712,0.7,715,1.5,719,0.7,724,0.5,729,0.3,734,0.5,740,0.4,
744,0.5,749,0.7,754,0.4,760,0.3,765,0.4,766,8.0,767,9.9,768,10.5,769,8.0,770,0.3,
775,0.4,779,0.7,783,0.4,784,6.8,785,7.5,786,5.3,787,0.4,792,0.5,797,0.7,802,0.9,807,1.2,812,0.7,817,0.5,822,0.4,824,4.4,826,5.0,827,3.1,828,0.3,832,0.5,837,0.3,
840,0.9,845,0.5,850,1.0,855,0.4,860,1.2,864,1.5,867,0.9,870,0.3,875,1.2,879,0.7,882,1.2,
886,1.0,890,0.7,895,0.9,900,0.5,905,1.0,910,0.7,915,0.9];

// QTL intervals (genome position start, end)
const GY_qtl = [[147,149],[441.8,443.6],[519.5,523],[576.8,578.8],[658.6,660.4],[736.8,740.2]];
const GPC_qtl = [[36.5,38],[218.3,220.3],[253.3,255.3],[283.8,285.6],[435.3,437],[460.8,462.8],[490.5,494],[509.3,511.3],[604,605.6],[679.6,682.8],[724.3,726.3]];
const GPD_qtl = [[145.3,147],[161.5,163],[285,287],[366,367.5],[487.5,490.5],[565.5,567.2],[809,810.5],[825.6,827]];
const GYD_qtl = [[51,53.5],[147,149],[438,440]];
const GPY_qtl = [[50.5,52]];
const EWPY_qtl = [[50.5,52],[204.6,206.2],[825,826.4]];
const HD_qtl = [[93.2,96.8],[301.2,302.8],[467.2,468.8],[572.8,574.6],[753.8,757.2],[789.4,790.8]];
const PH_qtl = [[463.2,464.8],[676.2,678],[753.5,759]];
const TGW_qtl = [[145.6,147.4],[203.5,206],[490.3,494]];
const GW_qtl = [[27,29],[146.2,149.4],[490.3,493.3],[675.6,678.8],[709.8,712.8]];
const GL_qtl = [[29,31.5],[45,47.2],[78.4,79.8],[203.6,205],[304.3,305.8],[347.6,349],[766.3,769.3],[783.5,786.5],[824,827]];

// ---------------- BUILD ----------------
const scans = {GY:GY_lod,GPC:GPC_lod,GPD:GPD_lod,GYD:GYD_lod,GPY:GPY_lod,EWPY:EWPY_lod,HD:HD_lod,PH:PH_lod,TGW:TGW_lod,GW:GW_lod,GL:GL_lod};
const qtls = {GY:GY_qtl,GPC:GPC_qtl,GPD:GPD_qtl,GYD:GYD_qtl,GPY:GPY_qtl,EWPY:EWPY_qtl,HD:HD_qtl,PH:PH_qtl,TGW:TGW_qtl,GW:GW_qtl,GL:GL_qtl};

const cum = []; let tot = 0; chrLen.forEach(l => { cum.push(tot); tot += l; });
const total = tot;
function chrOf(x){ for (let c = chrLen.length - 1; c >= 0; c--) if (x >= cum[c]) return c; return 0; }
function toPoints(flat){
  const pts = []; let prev = -1;
  for (let i = 0; i < flat.length; i += 2){
    const x = flat[i], y = flat[i+1], c = chrOf(x);
    if (prev !== -1 && c !== prev) pts.push({x: cum[c] - 0.01, y: null});
    pts.push({x, y}); prev = c;
  }
  return pts;
}

// layout
const edges = [14,83,153,223,294,365,435,506,576,646,717,787];
const plotLeft = 48, plotRight = 964, W = 1026;
const DARK = '#c8c8c8', LIGHT = '#e3e3e3', PINK = '#ff6cff', RED = '#ff2a2a';
const FONT = '"Liberation Sans", Arial, sans-serif';

traits.forEach((name, i) => {
  const isLast = i === traits.length - 1;
  const top = edges[i], bottom = edges[i+1];
  const padT = 10, padB = isLast ? 0 : 10, xH = isLast ? 20 : 0;
  const h = padT + (bottom - top) + padB + xH;
  const cv = document.createElement('canvas');
  cv.width = W; cv.height = h;
  cv.style.top = (top - padT) + 'px'; cv.style.width = W + 'px'; cv.style.height = h + 'px';
  document.body.appendChild(cv);

  const lab = document.createElement('div');
  lab.className = 'trait'; lab.textContent = name;
  lab.style.top = ((top + bottom) / 2) + 'px';
  document.body.appendChild(lab);

  const flat = scans[name];
  let D = 0; for (let k = 1; k < flat.length; k += 2) D = Math.max(D, flat[k]);
  const q = qtls[name];

  const panelPlugin = {
    id: 'panel' + i,
    beforeDatasetsDraw(chart){
      const {ctx, chartArea: a, scales: {x, y}} = chart;
      ctx.save();
      for (let c = 0; c < chrLen.length; c++){
        const x0 = x.getPixelForValue(cum[c]), x1 = x.getPixelForValue(cum[c] + chrLen[c]);
        ctx.fillStyle = c % 2 === 0 ? DARK : LIGHT;
        ctx.fillRect(x0, a.top, x1 - x0, a.bottom - a.top);
      }
      ctx.fillStyle = PINK;
      q.forEach(([s, e]) => {
        const x0 = x.getPixelForValue(s), x1 = x.getPixelForValue(e);
        ctx.fillRect(x0, a.top, Math.max(x1 - x0, 1.5), a.bottom - a.top);
      });
      ctx.restore();
    },
    afterDatasetsDraw(chart){
      const {ctx, chartArea: a, scales: {y}} = chart;
      ctx.save();
      const yy = Math.round(y.getPixelForValue(threshold)) + 0.5;
      ctx.strokeStyle = RED; ctx.lineWidth = 1.3;
      ctx.beginPath(); ctx.moveTo(a.left, yy); ctx.lineTo(a.right, yy); ctx.stroke();
      ctx.restore();
    },
    afterDraw(chart){
      const {ctx, chartArea: a} = chart;
      ctx.save();
      ctx.strokeStyle = '#1c1c1c'; ctx.lineWidth = 2;
      ctx.strokeRect(a.left, a.top, a.right - a.left, a.bottom - a.top);
      ctx.restore();
    }
  };

  const ticksY = yTicks[name];
  new Chart(cv, {
    type: 'line',
    data: { datasets: [{
      data: toPoints(flat),
      borderColor: '#0a0a0a', borderWidth: 1.8, pointRadius: 0, tension: 0, spanGaps: false, fill: false
    }]},
    options: {
      responsive: false, animation: false, devicePixelRatio: 1, events: [],
      layout: { padding: { top: padT, bottom: padB, left: 0, right: W - plotRight } },
      plugins: { legend: { display: false }, tooltip: { enabled: false } },
      scales: {
        x: {
          type: 'linear', min: 0, max: total, display: isLast,
          afterBuildTicks: s => { s.ticks = cum.map((c, k) => ({ value: c + chrLen[k] / 2 })); },
          afterFit: s => { s.height = xH; },
          ticks: { autoSkip: false, maxRotation: 0, minRotation: 0, padding: 2, color: '#111',
                   font: { size: 15, family: FONT }, callback: (v, k) => chromosomes[k] },
          grid: { drawOnChartArea: false, drawTicks: true, tickLength: 4, color: '#333' },
          border: { display: false }
        },
        y: {
          type: 'linear', min: -0.04 * D, max: 1.04 * D,
          afterBuildTicks: s => { s.ticks = ticksY.map(v => ({ value: v })); },
          afterFit: s => { s.width = plotLeft; },
          ticks: { autoSkip: false, padding: 3, color: '#333', font: { size: 10, family: FONT },
                   callback: v => (name === 'PH' ? (v % phLabelStep === 0 ? String(v) : '') : String(v)) },
          grid: { drawOnChartArea: false, drawTicks: true, tickLength: 5, color: '#333' },
          border: { display: false }
        }
      }
    },
    plugins: [panelPlugin]
  });
});
</script>
</body></html>
